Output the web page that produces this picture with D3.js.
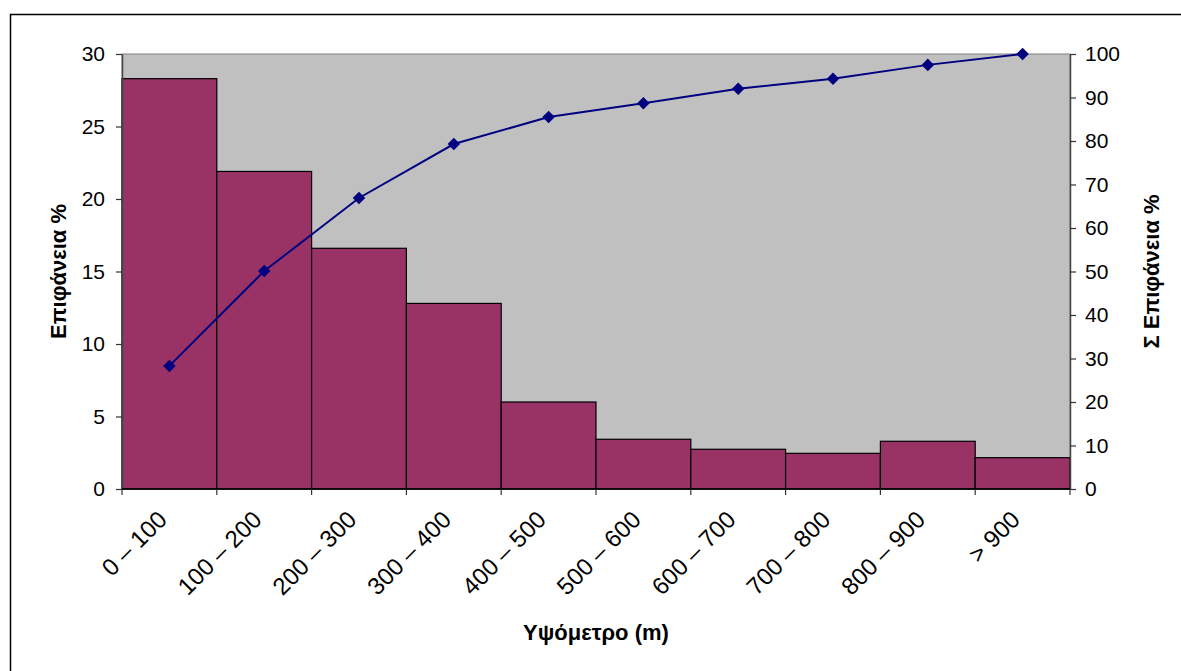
<!DOCTYPE html>
<html>
<head>
<meta charset="utf-8">
<script src="https://cdn.jsdelivr.net/npm/d3@7"></script>
<style>
  html, body { margin: 0; padding: 0; background: #fff; }
  svg { display: block; }
  text { font-family: Arial, "Liberation Sans", sans-serif; fill: #000; }
</style>
</head>
<body>
<svg id="chart" width="1181" height="671"></svg>
<script>
// Altitude classes (m)
const categories = ["0 – 100", "100 – 200", "200 – 300", "300 – 400", "400 – 500",
                    "500 – 600", "600 – 700", "700 – 800", "800 – 900", "> 900"];
// Share of area per class (%)
const areaPct = [28.3, 21.9, 16.6, 12.8, 6.0, 3.43, 2.74, 2.46, 3.29, 2.16];
// Cumulative share of area (%)
const cumulativePct = [28.3, 50.1, 66.9, 79.3, 85.5, 88.7, 92.0, 94.3, 97.5, 100];
const leftTicks = [0, 5, 10, 15, 20, 25, 30];
const rightTicks = [0, 10, 20, 30, 40, 50, 60, 70, 80, 90, 100];

const svg = d3.select("#chart");
const W = 1181, H = 671;
const m = { left: 122, right: 1070, top: 54, bottom: 489 };
const FONT = "Arial, 'Liberation Sans', sans-serif";

// outer frame
svg.append("rect")
  .attr("x", 10.5).attr("y", 14.5)
  .attr("width", W + 20).attr("height", H + 20)
  .attr("fill", "#fff").attr("stroke", "#000").attr("stroke-width", 1.5);

const x = d3.scaleBand().domain(categories).range([m.left, m.right]).padding(0);
const yL = d3.scaleLinear().domain([0, 30]).range([m.bottom, m.top]);
const yR = d3.scaleLinear().domain([0, 100]).range([m.bottom, m.top]);

// plot area
svg.append("rect")
  .attr("x", m.left).attr("y", m.top)
  .attr("width", m.right - m.left).attr("height", m.bottom - m.top)
  .attr("fill", "#C0C0C0").attr("stroke", "#808080").attr("stroke-width", 1);

// bars
svg.append("g").selectAll("rect")
  .data(areaPct)
  .join("rect")
  .attr("x", (d, i) => x(categories[i]))
  .attr("y", d => yL(d))
  .attr("width", x.bandwidth())
  .attr("height", d => yL(0) - yL(d))
  .attr("fill", "#993366")
  .attr("stroke", "#000")
  .attr("stroke-width", 1.2);

// left axis
const axL = svg.append("g")
  .attr("transform", `translate(${m.left},0)`)
  .call(d3.axisLeft(yL).tickValues(leftTicks).tickSize(6).tickPadding(11).tickSizeOuter(0));
// right axis
const axR = svg.append("g")
  .attr("transform", `translate(${m.right},0)`)
  .call(d3.axisRight(yR).tickValues(rightTicks).tickSize(6).tickPadding(9).tickSizeOuter(0));
// bottom axis
const tickPos = categories.map(c => x(c)).concat([m.right]);
const axB = svg.append("g");
axB.append("line")
  .attr("x1", m.left).attr("x2", m.right)
  .attr("y1", m.bottom).attr("y2", m.bottom)
  .attr("stroke", "#000").attr("stroke-width", 1.5);
axB.selectAll("line.t").data(tickPos).join("line")
  .attr("class", "t")
  .attr("x1", d => d).attr("x2", d => d)
  .attr("y1", m.bottom).attr("y2", m.bottom + 6)
  .attr("stroke", "#333").attr("stroke-width", 1.2);
axB.selectAll("text").data(categories).join("text")
  .attr("transform", d => `translate(${x(d) + x.bandwidth() / 2 - 7},${m.bottom + 26}) rotate(-45)`)
  .attr("text-anchor", "end")
  .attr("dy", "0.35em")
  .attr("font-size", 24)
  .attr("font-family", FONT)
  .text(d => d);

[axL, axR].forEach(g => {
  g.select(".domain").attr("stroke", "#444").attr("stroke-width", 1.5);
  g.selectAll(".tick line").attr("stroke", "#333").attr("stroke-width", 1.2);
  g.selectAll(".tick text").attr("font-size", 21).attr("font-family", FONT);
});

// cumulative line
const cx = (d, i) => x(categories[i]) + x.bandwidth() / 2;
svg.append("path")
  .datum(cumulativePct)
  .attr("fill", "none")
  .attr("stroke", "#000080")
  .attr("stroke-width", 2)
  .attr("d", d3.line().x(cx).y(d => yR(d)));
svg.append("g").selectAll("path")
  .data(cumulativePct)
  .join("path")
  .attr("transform", (d, i) => `translate(${cx(d, i)},${yR(d)})`)
  .attr("d", d3.symbol().type(d3.symbolDiamond2).size(100))
  .attr("fill", "#000080");

// axis titles
svg.append("text")
  .attr("transform", `translate(66,${(m.top + m.bottom) / 2}) rotate(-90)`)
  .attr("text-anchor", "middle")
  .attr("font-size", 22).attr("font-weight", "bold").attr("font-family", FONT)
  .text("Επιφάνεια %");
svg.append("text")
  .attr("transform", `translate(1159,${(m.top + m.bottom) / 2}) rotate(-90)`)
  .attr("text-anchor", "middle")
  .attr("font-size", 22).attr("font-weight", "bold").attr("font-family", FONT)
  .text("Σ Επιφάνεια %");
svg.append("text")
  .attr("x", (m.left + m.right) / 2).attr("y", 640)
  .attr("text-anchor", "middle")
  .attr("font-size", 22).attr("font-weight", "bold").attr("font-family", FONT)
  .text("Υψόμετρο (m)");
</script>
</body>
</html>
